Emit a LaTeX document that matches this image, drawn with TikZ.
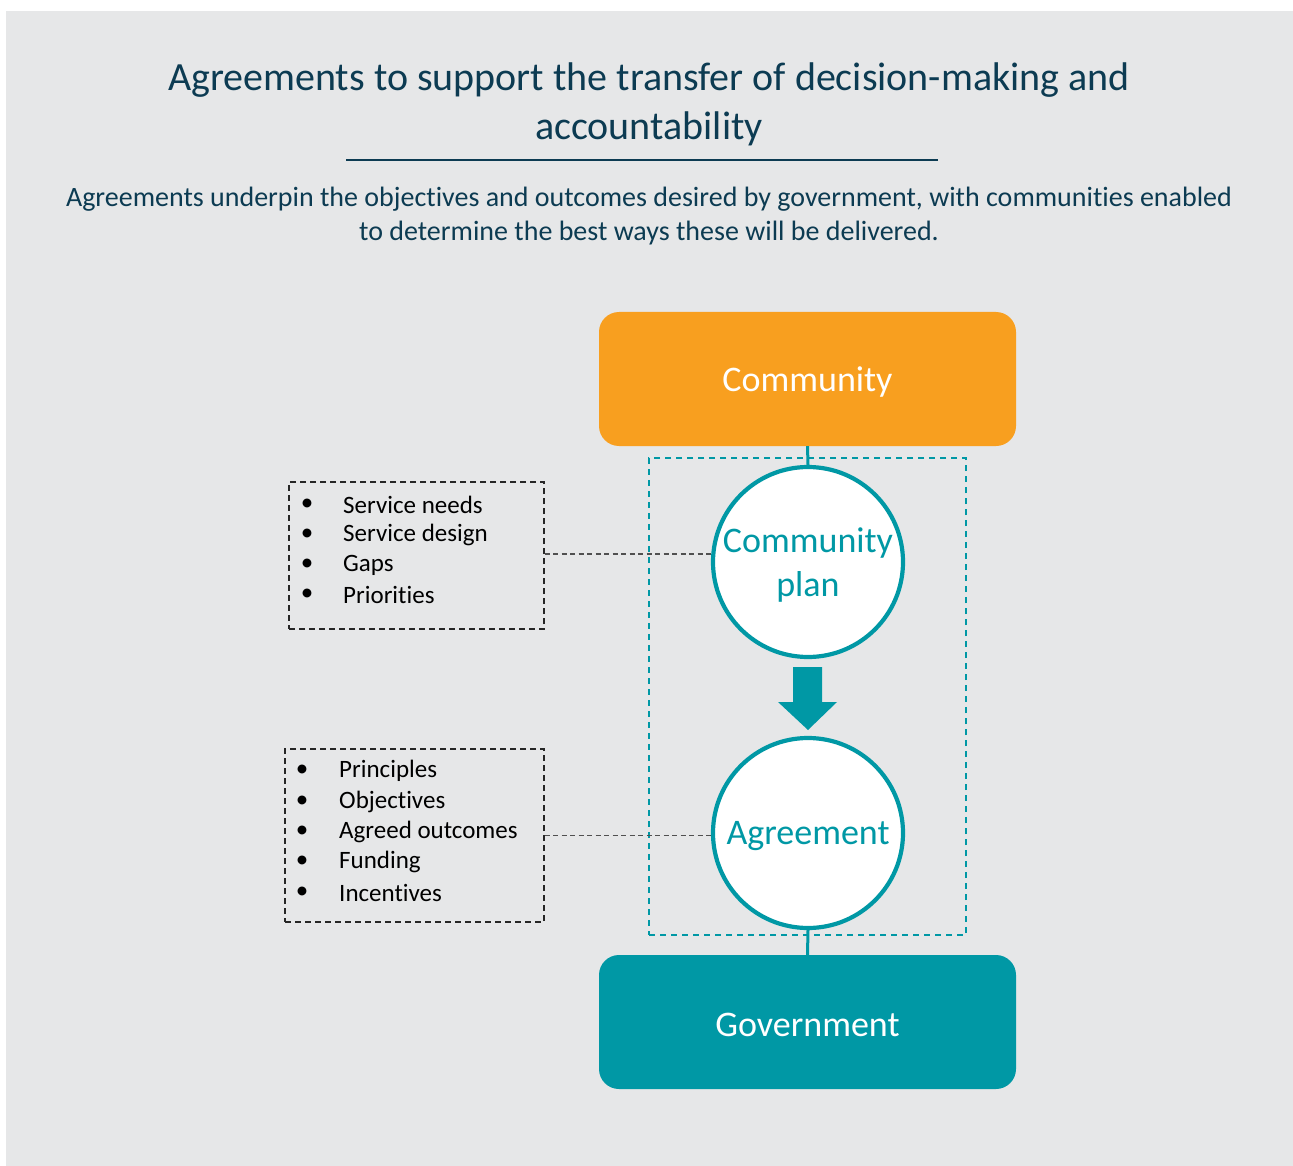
\documentclass[tikz,border=0pt]{standalone}
\usepackage{fontspec}
\setmainfont{Carlito}[Ligatures={NoCommon}]
\definecolor{bg}{HTML}{E6E7E8}
\definecolor{navy}{RGB}{12,59,82}
\definecolor{teal2}{HTML}{0098A5}
\definecolor{orange2}{HTML}{F89F1F}
\definecolor{dgray}{RGB}{80,80,80}
\tikzset{
  bigbox/.style={rounded corners=20pt, minimum width=417pt, minimum height=134pt, inner sep=0pt},
  boxtext/.style={inner sep=0pt, text=white, font=\fontsize{36}{40}\selectfont},
  circ/.style={circle, draw=teal2, line width=4.2pt, fill=white, minimum size=190pt, inner sep=0pt},
  circtext/.style={inner sep=0pt, text=teal2, align=center, font=\fontsize{36}{44}\selectfont},
  listbox/.style={draw=black!85, line width=1.4pt, dash pattern=on 6pt off 4pt, inner sep=0pt},
  bul/.style={inner sep=0pt, anchor=center, font=\fontsize{25}{28}\selectfont},
  itm/.style={inner sep=0pt, anchor=west, font=\fontsize{25}{28}\selectfont},
  link/.style={draw=dgray, line width=1.8pt, dash pattern=on 5pt off 3.5pt},
  stem/.style={draw=teal2, line width=3pt},
}
\begin{document}
\begin{tikzpicture}[x=1pt,y=-1pt]
\useasboundingbox (0,0) rectangle (1293,1166);
\fill[bg] (6,11) rectangle (1293,1166);
% title
\node[text=navy, font=\fontsize{40}{49}\selectfont, align=center, inner sep=0pt] (title) at (649,104)
  {Agreements to support the transfer of decision-making and\\accountability};
\coordinate (ulA) at (346,160);
\coordinate (ulB) at (938,160);
\draw[navy, line width=1.2pt] (ulA) -- (ulB);
\node[text=navy, font=\fontsize{28}{34}\selectfont, align=center, inner sep=0pt] (sub) at (649,216)
  {Agreements underpin the objectives and outcomes desired by government, with communities enabled\\to determine the best ways these will be delivered.};
% teal dashed frame
\node[draw=teal2, line width=1.4pt, dash pattern=on 6pt off 5pt, minimum width=317pt, minimum height=477pt, inner sep=0pt] (frame) at (807.5,696.5) {};
% boxes
\node[bigbox, fill=orange2] (comm) at (807.5,379) {};
\node[boxtext] (commt) at (807.5,382) {Community};
\node[bigbox, fill=teal2] (gov) at (807.5,1022) {};
\node[boxtext] (govt) at (807.5,1025) {Government};
% circles
\node[circ] (cp) at (808,562) {};
\node[circtext] (cpt) at (808,565) {Community\\plan};
\node[circ] (ag) at (808,833) {};
\node[circtext] (agt) at (808,836) {Agreement};
\draw[stem] (comm.south) -- (cp.north);
\draw[stem] (ag.south) -- (gov.north);
% arrow
\fill[teal2] (793,667) -- (822,667) -- (822,702) -- (837,702) -- (808,730) -- (778,702) -- (793,702) -- cycle;
% list box 1
\node[listbox, minimum width=255pt, minimum height=147pt] (lb1) at (416.5,555.5) {};
\foreach \t/\yy [count=\i] in {Service needs/505, Service design/535, Gaps/565, Priorities/595}{
  \node[bul] (b1\i) at (307,\yy) {•};
  \node[itm] (t1\i) at (343,\yy) {\t};
}
% list box 2
\node[listbox, minimum width=259pt, minimum height=173pt] (lb2) at (414.5,835.5) {};
\foreach \t/\yy [count=\i] in {Principles/771, Objectives/802, Agreed outcomes/832, Funding/862, Incentives/893}{
  \node[bul] (b2\i) at (302,\yy) {•};
  \node[itm] (t2\i) at (339,\yy) {\t};
}
% links
\draw[link] (lb1.east |- 0,554) -- (cp.west |- 0,554);
\draw[link] (lb2.east) -- (ag.west |- lb2.east);
\end{tikzpicture}
\end{document}
